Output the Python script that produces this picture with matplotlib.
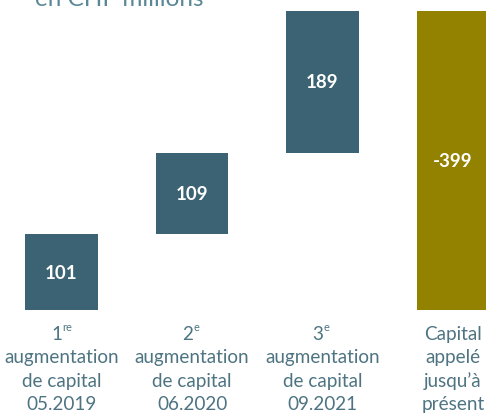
import matplotlib
matplotlib.use("Agg")
import matplotlib.pyplot as plt

plt.rcParams['font.family'] = ['Lato', 'DejaVu Sans']

ordinals = ["1", "2", "3", None]
sups = ["re", "e", "e", None]
rest_lines = [
    ["augmentation", "de capital", "05.2019"],
    ["augmentation", "de capital", "06.2020"],
    ["augmentation", "de capital", "09.2021"],
    ["Capital", "appelé", "jusqu’à", "présent"],
]
values = [101, 109, 189, -399]
value_labels = ["101", "109", "189", "-399"]
title = "en CHF millions"

teal = "#3c6373"
olive = "#938100"
text_col = "#4e7482"

W, H = 486, 414
fig = plt.figure(figsize=(W / 100, H / 100), dpi=100)
base_px = 311
ax = fig.add_axes([0, (H - base_px) / H, 1, base_px / H])
px_per_unit = 299 / 399
ax.set_ylim(0, base_px / px_per_unit)
spacing = 130.5
ax.set_xlim(-61.5 / spacing, (W - 61.5) / spacing)
ax.axis("off")

# waterfall
running = 0
for i, v in enumerate(values):
    if v >= 0:
        bottom, height, col = running, v, teal
        running += v
    else:
        bottom, height, col = running + v, -v, olive
        running += v
    ax.bar(i, height, bottom=bottom, width=72.5 / spacing, color=col, linewidth=0)
    ax.text(i, bottom + height / 2, value_labels[i], ha="center", va="center",
            color="white", fontsize=13.5, fontweight="bold")

# category labels (baselines in px below bar base)
baselines_px = [29, 52.5, 76, 99.5]
pt = 0.72
fs = 13.6
for i in range(len(values)):
    lines_i = rest_lines[i]
    if ordinals[i] is not None:
        ax.annotate(ordinals[i], xy=(i, 0), xytext=(1 * pt, -baselines_px[0] * pt),
                    textcoords="offset points", ha="right", va="baseline",
                    fontsize=fs, color=text_col, annotation_clip=False)
        ax.annotate(sups[i], xy=(i, 0), xytext=(1 * pt, -(baselines_px[0] - 9) * pt),
                    textcoords="offset points", ha="left", va="baseline",
                    fontsize=fs * 0.58, color=text_col, annotation_clip=False)
        start = 1
    else:
        start = 0
    for k, line in enumerate(lines_i):
        ax.annotate(line, xy=(i, 0), xytext=(0, -baselines_px[start + k] * pt),
                    textcoords="offset points", ha="center", va="baseline",
                    fontsize=fs, color=text_col, annotation_clip=False)

fig.text(35 / W, (H - 5.5) / H, title, ha="left", va="baseline",
         fontsize=17.5, color="#5a8796")

fig.savefig("out.png", dpi=100)
